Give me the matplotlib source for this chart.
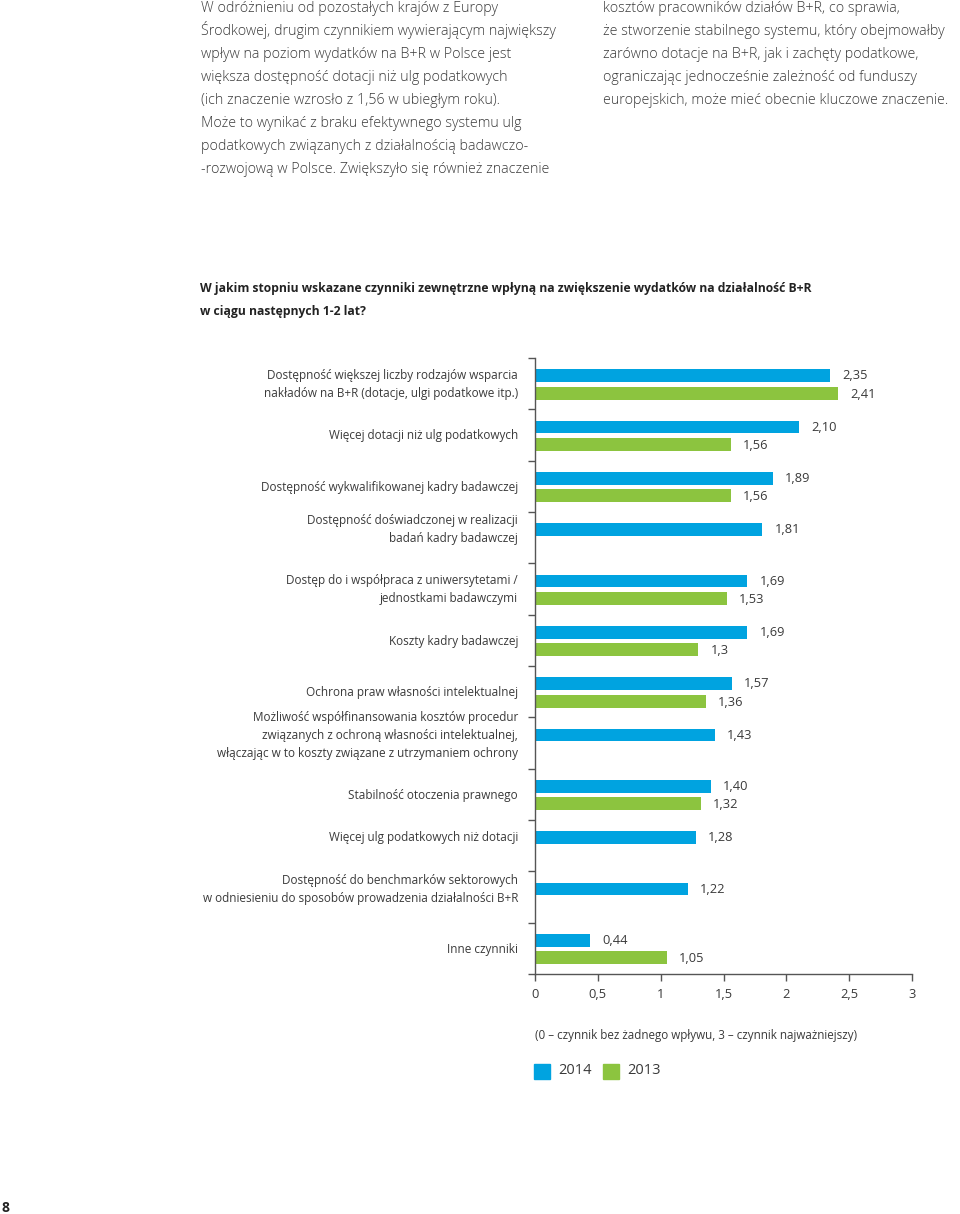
import numpy as np
import matplotlib
matplotlib.use("Agg")
import matplotlib.pyplot as plt
from matplotlib.patches import Rectangle

plt.rcParams['font.family'] = ['Open Sans', 'DejaVu Sans']

# dane
categories = [
    "Dostępność większej liczby rodzajów wsparcia\nnakładów na B+R (dotacje, ulgi podatkowe itp.)",
    "Więcej dotacji niż ulg podatkowych",
    "Dostępność wykwalifikowanej kadry badawczej",
    "Dostępność doświadczonej w realizacji\nbadań kadry badawczej",
    "Dostęp do i współpraca z uniwersytetami /\njednostkami badawczymi",
    "Koszty kadry badawczej",
    "Ochrona praw własności intelektualnej",
    "Możliwość współfinansowania kosztów procedur\nzwiązanych z ochroną własności intelektualnej,\nwłączając w to koszty związane z utrzymaniem ochrony",
    "Stabilność otoczenia prawnego",
    "Więcej ulg podatkowych niż dotacji",
    "Dostępność do benchmarków sektorowych\nw odniesieniu do sposobów prowadzenia działalności B+R",
    "Inne czynniki",
]
v2014 = [2.35, 2.10, 1.89, 1.81, 1.69, 1.69, 1.57, 1.43, 1.40, 1.28, 1.22, 0.44]
v2013 = [2.41, 1.56, 1.56, None, 1.53, 1.30, 1.36, None, 1.32, None, None, 1.05]
lab2014 = ["2,35", "2,10", "1,89", "1,81", "1,69", "1,69", "1,57", "1,43", "1,40", "1,28", "1,22", "0,44"]
lab2013 = ["2,41", "1,56", "1,56", None, "1,53", "1,3", "1,36", None, "1,32", None, None, "1,05"]
xticks = [0, 0.5, 1, 1.5, 2, 2.5, 3]
xticklabels = ["0", "0,5", "1", "1,5", "2", "2,5", "3"]

left_par = [
    "W odróżnieniu od pozostałych krajów z Europy",
    "Środkowej, drugim czynnikiem wywierającym największy",
    "wpływ na poziom wydatków na B+R w Polsce jest",
    "większa dostępność dotacji niż ulg podatkowych",
    "(ich znaczenie wzrosło z 1,56 w ubiegłym roku).",
    "Może to wynikać z braku efektywnego systemu ulg",
    "podatkowych związanych z działalnością badawczo-",
    "-rozwojową w Polsce. Zwiększyło się również znaczenie",
]
right_par = [
    "kosztów pracowników działów B+R, co sprawia,",
    "że stworzenie stabilnego systemu, który obejmowałby",
    "zarówno dotacje na B+R, jak i zachęty podatkowe,",
    "ograniczając jednocześnie zależność od funduszy",
    "europejskich, może mieć obecnie kluczowe znaczenie.",
]

BLUE = "#00a3e0"
GREEN = "#8cc43f"
TXT = "#3a3a3a"

W, H = 960, 1214
fig = plt.figure(figsize=(W / 100, H / 100), dpi=100)


def fx(px):
    return px / W


def fy(py):
    return 1 - py / H


# tekst nad wykresem
for i, line in enumerate(left_par):
    fig.text(fx(201), fy(12 + 23 * i), line, fontsize=10.25, fontweight='light',
             color=TXT, va='baseline', ha='left')
for i, line in enumerate(right_par):
    fig.text(fx(603), fy(12 + 23 * i), line, fontsize=10.25, fontweight='light',
             color=TXT, va='baseline', ha='left')

fig.text(fx(200), fy(292), "W jakim stopniu wskazane czynniki zewnętrzne wpłyną na zwiększenie wydatków na działalność B+R",
         fontsize=8.75, fontweight='bold', color="#222222", va='baseline')
fig.text(fx(200), fy(315), "w ciągu następnych 1-2 lat?",
         fontsize=8.75, fontweight='bold', color="#222222", va='baseline')

# wykres
ax = fig.add_axes([fx(535), fy(974), fx(912) - fx(535), (974 - 358) / H])
n = len(categories)
pos_b = np.arange(n) + 0.345
pos_g = np.arange(n) + 0.685
bh = 0.25

b14 = np.array(v2014, dtype=float)
b13 = np.array([np.nan if v is None else v for v in v2013], dtype=float)
ax.barh(pos_b, b14, height=bh, color=BLUE)
ax.barh(pos_g, np.nan_to_num(b13), height=bh, color=GREEN)

for i in range(n):
    ax.annotate(lab2014[i], xy=(b14[i], pos_b[i]), xytext=(12, 0), textcoords='offset pixels',
                ha='left', va='center', fontsize=9.3, color=TXT)
    if lab2013[i] is not None:
        ax.annotate(lab2013[i], xy=(b13[i], pos_g[i]), xytext=(12, -1), textcoords='offset pixels',
                    ha='left', va='center', fontsize=9.3, color=TXT)
    yl = (pos_b[i] + pos_g[i]) / 2 if lab2013[i] is not None else pos_b[i]
    ax.annotate(categories[i], xy=(0, yl), xytext=(-17, 0), textcoords='offset pixels',
                ha='right', va='center', fontsize=8.5, color=TXT, linespacing=1.5,
                multialignment='right')

ax.set_xlim(0, 3)
ax.set_ylim(n, 0)
ax.set_yticks(np.arange(n + 1))
ax.set_yticklabels([])
ax.set_xticks(xticks)
ax.set_xticklabels(xticklabels)
ax.tick_params(axis='y', length=5, width=1, color="#555555")
ax.tick_params(axis='x', length=5, width=1, color="#555555", labelsize=9.3, labelcolor=TXT, pad=5)
for s in ['top', 'right']:
    ax.spines[s].set_visible(False)
for s in ['left', 'bottom']:
    ax.spines[s].set_color("#555555")
    ax.spines[s].set_linewidth(1)

# opis skali i legenda
fig.text(fx(535), fy(1035), "(0 – czynnik bez żadnego wpływu, 3 – czynnik najważniejszy)",
         fontsize=8.4, color=TXT, va='center')
fig.add_artist(Rectangle((fx(534), fy(1079)), fx(16), 15 / H, color=BLUE, transform=fig.transFigure))
fig.text(fx(558), fy(1071), "2014", fontsize=10.5, color=TXT, va='center')
fig.add_artist(Rectangle((fx(603), fy(1079)), fx(16), 15 / H, color=GREEN, transform=fig.transFigure))
fig.text(fx(627), fy(1071), "2013", fontsize=10.5, color=TXT, va='center')

fig.text(fx(2), fy(1208), "8", fontsize=10, fontweight='bold', color="#222222", va='center')

fig.savefig("out.png", dpi=100)
